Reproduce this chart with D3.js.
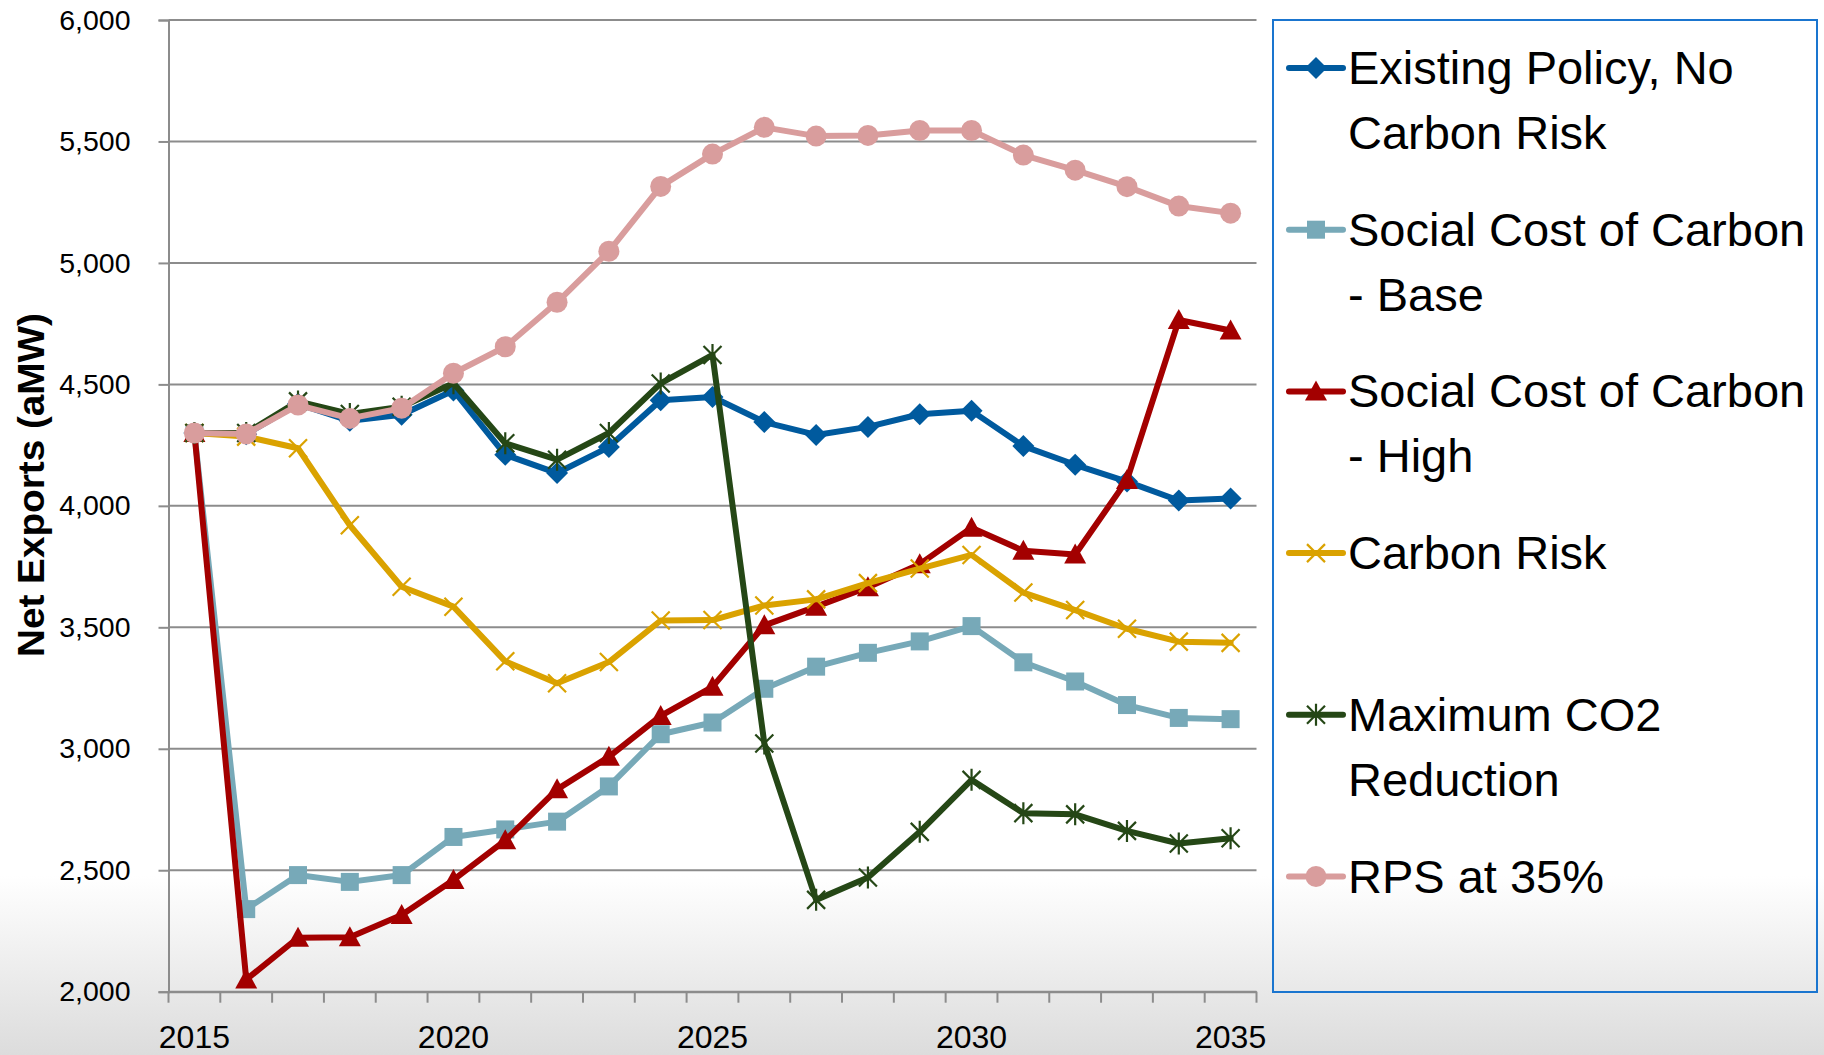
<!DOCTYPE html>
<html lang="en">
<head>
<meta charset="UTF-8">
<title>Net Exports (aMW)</title>
<script src="https://cdnjs.cloudflare.com/ajax/libs/d3/7.8.5/d3.min.js"></script>
<style>
    html, body { margin: 0; padding: 0; }
    body {
        width: 1824px;
        height: 1055px;
        overflow: hidden;
        background: linear-gradient(to bottom, #ffffff 0%, #ffffff 83%, #dcdcdc 100%);
    }
    svg { display: block; font-family: "Liberation Sans", Arial, sans-serif; }
</style>
</head>
<body>
<div id="chart"></div>
<script>
// categories
const years = [2015, 2016, 2017, 2018, 2019, 2020, 2021, 2022, 2023, 2024, 2025,
               2026, 2027, 2028, 2029, 2030, 2031, 2032, 2033, 2034, 2035];
const yearLabels = [2015, 2020, 2025, 2030, 2035];
const yTicks = [2000, 2500, 3000, 3500, 4000, 4500, 5000, 5500, 6000];

// series values (aMW)
const existingPolicy = [4300, 4295, 4420, 4350, 4375, 4475, 4210, 4135, 4242, 4435, 4448,
                        4345, 4292, 4325, 4377, 4391, 4246, 4169, 4100, 4022, 4030];
const socialCostBase = [4300, 2340, 2480, 2452, 2480, 2637, 2668, 2700, 2845, 3060, 3108,
                        3247, 3338, 3395, 3442, 3505, 3356, 3277, 3180, 3127, 3122];
const socialCostHigh = [4300, 2050, 2222, 2224, 2316, 2460, 2623, 2833, 2967, 3135, 3255,
                        3508, 3585, 3665, 3760, 3910, 3815, 3800, 4106, 4765, 4722];
const carbonRisk     = [4300, 4285, 4237, 3920, 3667, 3585, 3360, 3270, 3357, 3528, 3530,
                        3590, 3615, 3682, 3742, 3798, 3643, 3571, 3494, 3441, 3436];
const maxCO2         = [4300, 4300, 4430, 4378, 4408, 4505, 4258, 4190, 4300, 4504, 4621,
                        3022, 2378, 2470, 2658, 2872, 2735, 2730, 2662, 2610, 2632];
const rps35          = [4300, 4296, 4415, 4360, 4402, 4546, 4655, 4838, 5048, 5315, 5448,
                        5558, 5522, 5525, 5545, 5545, 5444, 5382, 5314, 5234, 5205];

const series = [
    { name: ["Existing Policy, No", "Carbon Risk"], values: existingPolicy, color: "#005A9E", marker: "diamond" },
    { name: ["Social Cost of Carbon", "- Base"],   values: socialCostBase, color: "#77A9B8", marker: "square" },
    { name: ["Social Cost of Carbon", "- High"],   values: socialCostHigh, color: "#A30000", marker: "triangle" },
    { name: ["Carbon Risk"],                       values: carbonRisk,     color: "#DAA200", marker: "x" },
    { name: ["Maximum CO2", "Reduction"],          values: maxCO2,         color: "#254716", marker: "star" },
    { name: ["RPS at 35%"],                        values: rps35,          color: "#D99D9D", marker: "circle" }
];

const W = 1824, H = 1055;
const plot = { left: 168.5, right: 1256.5, top: 20, bottom: 991.7 };

const svg = d3.select("#chart").append("svg")
    .attr("width", W)
    .attr("height", H);

const x = d3.scaleBand().domain(years).range([plot.left, plot.right]).padding(0);
const y = d3.scaleLinear().domain([2000, 6000]).range([plot.bottom, plot.top]);
const cx = d => x(d) + x.bandwidth() / 2;

// gridlines
svg.append("g")
    .selectAll("line")
    .data(yTicks)
    .join("line")
    .attr("x1", plot.left)
    .attr("x2", plot.right)
    .attr("y1", d => y(d))
    .attr("y2", d => y(d))
    .attr("stroke", "#8c8c8c")
    .attr("stroke-width", 2);

// y axis
const yAxis = svg.append("g")
    .attr("transform", `translate(${plot.left},0)`)
    .call(d3.axisLeft(y).tickValues(yTicks).tickFormat(d3.format(",")).tickSize(10).tickPadding(28));
yAxis.select(".domain").attr("stroke", "#8c8c8c").attr("stroke-width", 2);
yAxis.selectAll(".tick line").attr("stroke", "#8c8c8c").attr("stroke-width", 2);
yAxis.selectAll(".tick text")
    .attr("font-size", 28.5)
    .attr("font-family", "Liberation Sans, Arial, sans-serif")
    .attr("fill", "#000");

// x axis: ticks between categories, labels every 5 years
const xAxis = svg.append("g")
    .attr("transform", `translate(0,${plot.bottom})`)
    .call(d3.axisBottom(x).tickValues(yearLabels).tickSize(0).tickPadding(34));
xAxis.select(".domain").attr("stroke", "#8c8c8c").attr("stroke-width", 2);
xAxis.selectAll(".tick text")
    .attr("font-size", 32)
    .attr("font-family", "Liberation Sans, Arial, sans-serif")
    .attr("fill", "#000");
xAxis.selectAll("line.cat")
    .data(years.map(d => x(d)).concat([plot.right]))
    .join("line")
    .attr("class", "cat")
    .attr("x1", d => d).attr("x2", d => d)
    .attr("y1", 0).attr("y2", 11)
    .attr("stroke", "#8c8c8c")
    .attr("stroke-width", 2);

// marker shapes
function markerPath(type) {
    switch (type) {
        case "diamond":  return "M0,-11L11,0L0,11L-11,0Z";
        case "square":   return "M-9,-9H9V9H-9Z";
        case "triangle": return "M0,-11L11,9L-11,9Z";
        case "circle":   return d3.symbol(d3.symbolCircle, Math.PI * 10.5 * 10.5)();
        case "x":        return "M-9,-9L9,9M9,-9L-9,9";
        case "star":     return "M-9,-9L9,9M9,-9L-9,9M0,-11V11";
    }
}
const strokeMarker = t => t === "x" || t === "star";

function drawMarker(g, s) {
    const p = g.append("path").attr("d", markerPath(s.marker));
    if (strokeMarker(s.marker)) {
        p.attr("fill", "none").attr("stroke", s.color).attr("stroke-width", 2.2);
    } else {
        p.attr("fill", s.color);
    }
    return p;
}

const line = d3.line()
    .x((d, i) => cx(years[i]))
    .y(d => y(d));

series.forEach(s => {
    const g = svg.append("g");
    g.append("path")
        .datum(s.values)
        .attr("d", line)
        .attr("fill", "none")
        .attr("stroke", s.color)
        .attr("stroke-width", 6)
        .attr("stroke-linejoin", "round")
        .attr("stroke-linecap", "round");
    s.values.forEach((v, i) => {
        drawMarker(g, s).attr("transform", `translate(${cx(years[i])},${y(v)})`);
    });
});

// y axis title
svg.append("text")
    .attr("transform", "translate(31,485) rotate(-90)")
    .attr("text-anchor", "middle")
    .attr("dominant-baseline", "central")
    .attr("font-size", 37)
    .attr("font-weight", "bold")
    .attr("textLength", 344)
    .attr("lengthAdjust", "spacingAndGlyphs")
    .text("Net Exports (aMW)");

// legend
const legend = svg.append("g");
legend.append("rect")
    .attr("x", 1273).attr("y", 20)
    .attr("width", 544).attr("height", 972)
    .attr("fill", "none")
    .attr("stroke", "#1a75cf")
    .attr("stroke-width", 2);

series.forEach((s, i) => {
    const base = 84 + 161.7 * i;
    const g = legend.append("g");
    g.append("line")
        .attr("x1", 1289).attr("x2", 1343)
        .attr("y1", base - 16).attr("y2", base - 16)
        .attr("stroke", s.color)
        .attr("stroke-width", 6)
        .attr("stroke-linecap", "round");
    drawMarker(g, s).attr("transform", `translate(1316,${base - 16})`);
    s.name.forEach((t, j) => {
        g.append("text")
            .attr("x", 1348)
            .attr("y", base + 65 * j)
            .attr("font-size", 47)
            .attr("fill", "#000")
            .text(t);
    });
});
</script>
</body>
</html>
